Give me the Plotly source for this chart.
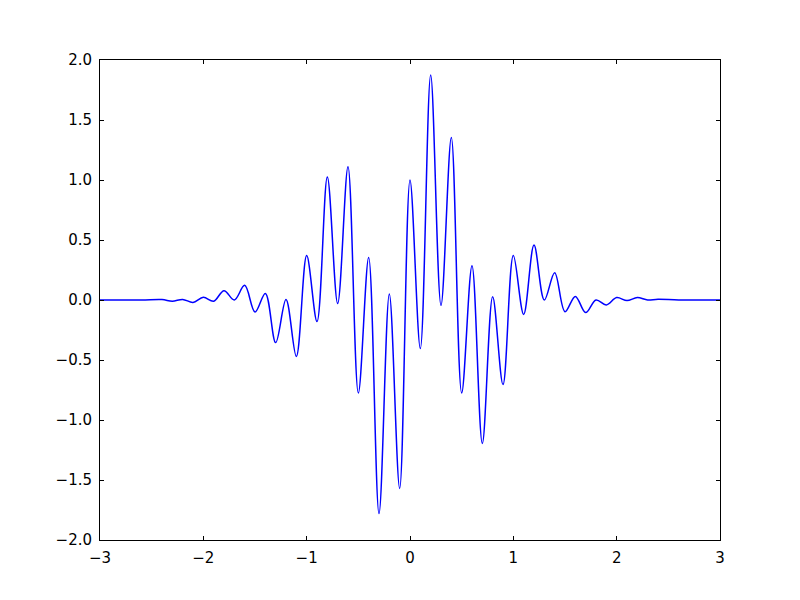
import plotly.graph_objects as go

# Curve (local extrema and anchor points)
x_vals = [-3.0, -2.6, -2.4, -2.3, -2.2, -2.1, -2.0, -1.9, -1.8, -1.7, -1.6, -1.5, -1.4, -1.3, -1.2,
          -1.1, -1.0, -0.9, -0.8, -0.7, -0.6, -0.5, -0.4, -0.3, -0.2, -0.1, 0.0,
          0.1, 0.2, 0.3, 0.4, 0.5, 0.6, 0.7, 0.8, 0.9, 1.0, 1.1, 1.2, 1.3, 1.4,
          1.5, 1.6, 1.7, 1.8, 1.9, 2.0, 2.1, 2.2, 2.3, 2.4, 2.6, 3.0]
y_vals = [0.0, 0.0, 0.004, -0.01, 0.005, -0.02, 0.022, -0.01, 0.078, 0.0, 0.122, -0.10, 0.055, -0.355, 0.005,
          -0.47, 0.37, -0.18, 1.025, -0.03, 1.11, -0.775, 0.355, -1.78, 0.05, -1.57, 1.0,
          -0.405, 1.875, -0.045, 1.355, -0.775, 0.286, -1.195, 0.028, -0.705, 0.37, -0.12, 0.458, 0.0, 0.228,
          -0.097, 0.03, -0.105, 0.0, -0.042, 0.02, -0.005, 0.02, 0.0, 0.007, 0.0, 0.0]

x_ticks = [-3, -2, -1, 0, 1, 2, 3]
y_ticks = [-2.0, -1.5, -1.0, -0.5, 0.0, 0.5, 1.0, 1.5, 2.0]

fig = go.Figure()
fig.add_trace(go.Scatter(x=x_vals, y=y_vals, mode="lines",
                         line=dict(color="#0000ff", width=1.5, shape="spline", smoothing=1.0),
                         showlegend=False))

axis_common = dict(showline=True, linecolor="black", linewidth=1, mirror="ticks",
                   ticks="inside", ticklen=4, tickwidth=1, tickcolor="black",
                   showgrid=False, zeroline=False,
                   tickfont=dict(family="DejaVu Sans", size=15, color="black"))

fig.update_layout(
    width=800, height=600,
    margin=dict(l=92, r=88, t=52, b=68),
    paper_bgcolor="white", plot_bgcolor="white",
    xaxis=dict(range=[-3, 3], tickvals=x_ticks, ticktext=[f"{v:d}".replace("-", "\u2212") for v in x_ticks],
               ticklabelstandoff=4, **axis_common),
    yaxis=dict(range=[-2, 2], tickvals=y_ticks, ticktext=[f"{v:.1f}".replace("-", "\u2212") for v in y_ticks],
               ticklabelstandoff=4, **axis_common),
)

fig.write_html("out.html")
